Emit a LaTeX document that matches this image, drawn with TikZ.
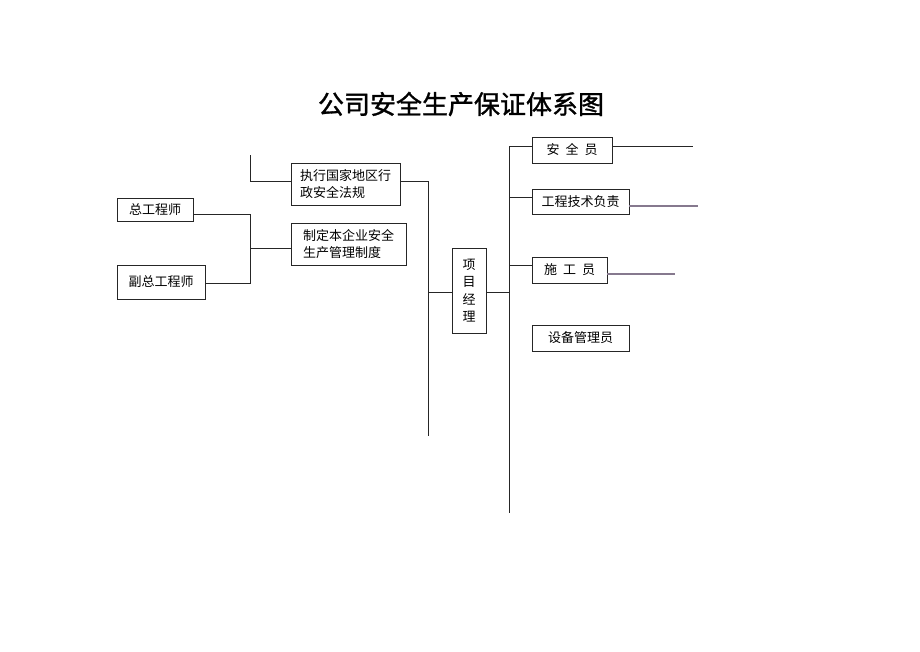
\documentclass[tikz,border=0pt]{standalone}
\usepackage{fontspec}
\setmainfont{Noto Sans CJK SC}
\newfontfamily\titlefont[FakeBold=1.2]{Noto Sans CJK SC}
\definecolor{lilac}{HTML}{86798E}
\tikzset{
  box/.style={draw=black!85, line width=0.8pt, inner sep=0pt, font=\fontsize{13}{17}\selectfont},
  conn/.style={draw=black!85, line width=0.8pt},
  connp/.style={draw=lilac, line width=1.1pt},
}
\begin{document}
\begin{tikzpicture}[x=1pt,y=-1pt]
\useasboundingbox (0,0) rectangle (920,651);
\node[font=\titlefont\fontsize{26}{30}\selectfont] (title) at (461,104) {公司安全生产保证体系图};
% left boxes
\node[box, minimum width=76pt, minimum height=23pt] (zg) at (155,209.5) {总工程师};
\node[box, minimum width=88pt, minimum height=34pt] (fzg) at (161,282) {副总工程师};
\node[box, minimum width=109pt, minimum height=42pt, align=left] (zx) at (345.5,184) {执行国家地区行\\政安全法规};
\node[box, minimum width=115pt, minimum height=42pt, align=left] (zd) at (348.5,244) {制定本企业安全\\生产管理制度};
\node[box, minimum width=34pt, minimum height=85pt, align=center, font=\fontsize{13}{17.5}\selectfont] (xm) at (469,290.5) {项\\目\\经\\理};
% right boxes
\node[box, minimum width=80pt, minimum height=26pt] (aqy) at (572,150) {安\hspace{6pt}全\hspace{6pt}员};
\node[box, minimum width=97pt, minimum height=25pt] (gc) at (580.5,201.5) {工程技术负责};
\node[box, minimum width=75pt, minimum height=26pt] (sg) at (569.5,270) {施\hspace{6pt}工\hspace{6pt}员};
\node[box, minimum width=97pt, minimum height=26pt] (sb) at (580.5,338) {设备管理员};
% coordinates
\coordinate (ltop) at (250,155);
\coordinate (lmid) at (250,181);
\coordinate (j1) at (250,214);
\coordinate (j2) at (250,283);
\coordinate (j3) at (250,248);
\coordinate (m1) at (428,181);
\coordinate (m2) at (428,292);
\coordinate (mbot) at (428,436);
\coordinate (r0) at (509,146);
\coordinate (r1) at (509,197);
\coordinate (r2) at (509,265);
\coordinate (r3) at (509,292);
\coordinate (rbot) at (509,513);
\coordinate (e1) at (693,146);
\coordinate (e2) at (698,206);
\coordinate (e3) at (675,274);
% connectors
\draw[conn] (ltop) -- (lmid) -- (zx.west |- lmid);
\draw[conn] (zg.east |- j1) -- (j1) -- (j2) -- (fzg.east |- j2);
\draw[conn] (j3) -- (zd.west |- j3);
\draw[conn] (zx.east |- m1) -- (m1) -- (mbot);
\draw[conn] (m2) -- (xm.west |- m2);
\draw[conn] (xm.east |- r3) -- (r3);
\draw[conn] (r0) -- (rbot);
\draw[conn] (r0) -- (aqy.west |- r0);
\draw[conn] (r1) -- (gc.west |- r1);
\draw[conn] (r2) -- (sg.west |- r2);
\draw[conn] (aqy.east |- e1) -- (e1);
\draw[connp] (gc.east |- e2) -- (e2);
\draw[connp] (sg.east |- e3) -- (e3);
\end{tikzpicture}
\end{document}
